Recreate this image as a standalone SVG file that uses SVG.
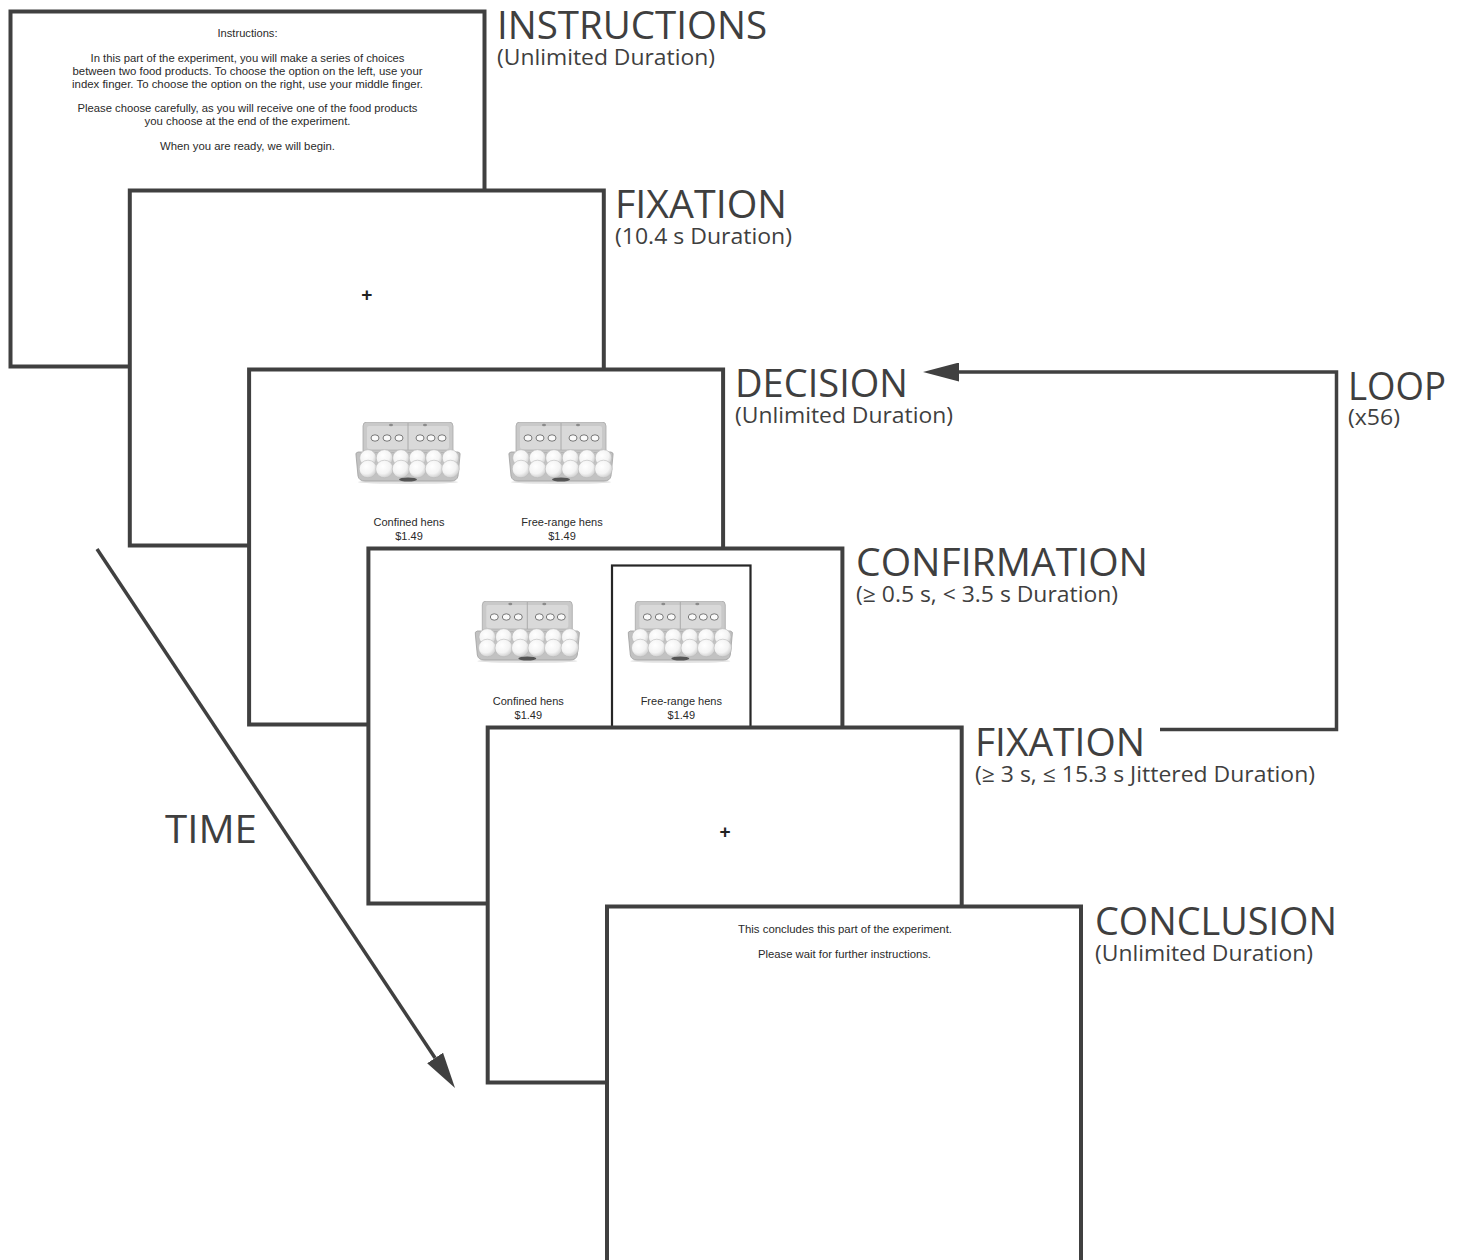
<svg xmlns="http://www.w3.org/2000/svg" width="1466" height="1260" viewBox="0 0 1466 1260">
<defs>
<style>
.screen{fill:#ffffff;stroke:#404040;stroke-width:4}
.head{font-family:"Open Sans","Noto Sans",sans-serif;font-size:37.5px;fill:#3f3f3f}
.sub{font-family:"Open Sans","Noto Sans",sans-serif;font-size:22px;fill:#3f3f3f}
.small{font-family:"Liberation Sans",Arial,sans-serif;font-size:11px;fill:#2a2a2a;text-anchor:middle}
.cross{font-family:"Liberation Sans",Arial,sans-serif;font-size:19px;font-weight:bold;fill:#222222;text-anchor:middle}
.conn{fill:none;stroke:#404040;stroke-width:3.5}
.sel{fill:none;stroke:#262626;stroke-width:2.2}
</style>
<radialGradient id="egg" cx="0.4" cy="0.35" r="0.7">
<stop offset="0" stop-color="#ffffff"/>
<stop offset="0.6" stop-color="#f3f3f3"/>
<stop offset="1" stop-color="#c8c8c8"/>
</radialGradient>
<marker id="arrow" viewBox="0 0 36 19" refX="0" refY="9.5" markerWidth="36" markerHeight="19" markerUnits="userSpaceOnUse" orient="auto">
<path d="M0,0 L36,9.5 L0,19 Z" fill="#404040"/>
</marker>
<symbol id="carton" viewBox="0 0 106 62" width="106" height="62">
<ellipse cx="53" cy="60" rx="50" ry="2" fill="#e2e2e2"/>
<path d="M8,4 Q8,0 12,0 H94 Q98,0 98,4 V29 H8 Z" fill="#c9c9c9" stroke="#a8a8a8" stroke-width="0.8"/>
<rect x="12" y="4" width="82" height="23" rx="2" fill="#d9d9d9"/>
<line x1="53" y1="1" x2="53" y2="28" stroke="#aaaaaa" stroke-width="1"/>
<ellipse cx="36" cy="3" rx="2" ry="1.2" fill="#8a8a8a"/>
<ellipse cx="70" cy="3" rx="2" ry="1.2" fill="#8a8a8a"/>
<g fill="#fafafa" stroke="#6a6a6a" stroke-width="0.9">
<ellipse cx="20" cy="16" rx="4" ry="3.2"/>
<ellipse cx="32" cy="16" rx="4" ry="3.2"/>
<ellipse cx="44" cy="16" rx="4" ry="3.2"/>
<ellipse cx="65" cy="16" rx="4" ry="3.2"/>
<ellipse cx="76" cy="16" rx="4" ry="3.2"/>
<ellipse cx="87" cy="16" rx="4" ry="3.2"/>
</g>
<path d="M1,33 Q0,31 3,30 H103 Q106,31 105,33 L103,54 Q102,59 96,59 H10 Q4,59 3,54 Z" fill="#c2c2c2" stroke="#a0a0a0" stroke-width="0.8"/>
<g fill="url(#egg)" stroke="#b8b8b8" stroke-width="0.6">
<circle cx="13" cy="36" r="8.3"/>
<circle cx="29.5" cy="36" r="8.3"/>
<circle cx="46" cy="36" r="8.3"/>
<circle cx="62.5" cy="36" r="8.3"/>
<circle cx="79" cy="36" r="8.3"/>
<circle cx="95.5" cy="36" r="8.3"/>
<circle cx="13" cy="47" r="8.8"/>
<circle cx="29.5" cy="47" r="8.8"/>
<circle cx="46" cy="47" r="8.8"/>
<circle cx="62.5" cy="47" r="8.8"/>
<circle cx="79" cy="47" r="8.8"/>
<circle cx="95.5" cy="47" r="8.8"/>
</g>
<ellipse cx="53" cy="57.5" rx="9" ry="2" fill="#555555"/>
</symbol>
</defs>
<rect x="0" y="0" width="1466" height="1260" fill="#ffffff"/>

<g id="node-instructions">
<rect class="screen" x="10.5" y="11.5" width="474" height="355"/>
<text class="small" x="247.5" y="37" textLength="60" lengthAdjust="spacingAndGlyphs">Instructions:</text>
<text class="small" x="247.5" y="62" textLength="314" lengthAdjust="spacingAndGlyphs">In this part of the experiment, you will make a series of choices</text>
<text class="small" x="247.5" y="75" textLength="350" lengthAdjust="spacingAndGlyphs">between two food products. To choose the option on the left, use your</text>
<text class="small" x="247.5" y="88" textLength="351" lengthAdjust="spacingAndGlyphs">index finger. To choose the option on the right, use your middle finger.</text>
<text class="small" x="247.5" y="112" textLength="340" lengthAdjust="spacingAndGlyphs">Please choose carefully, as you will receive one of the food products</text>
<text class="small" x="247.5" y="125" textLength="206" lengthAdjust="spacingAndGlyphs">you choose at the end of the experiment.</text>
<text class="small" x="247.5" y="150" textLength="175" lengthAdjust="spacingAndGlyphs">When you are ready, we will begin.</text>
<text class="head" x="497" y="39" textLength="270" lengthAdjust="spacingAndGlyphs">INSTRUCTIONS</text>
<text class="sub" x="497" y="65" textLength="218" lengthAdjust="spacingAndGlyphs">(Unlimited Duration)</text>
</g>

<g id="node-fixation-1">
<rect class="screen" x="129.8" y="190.5" width="474" height="355"/>
<text class="cross" x="366.7" y="301">+</text>
<text class="head" x="615" y="218" textLength="172" lengthAdjust="spacingAndGlyphs">FIXATION</text>
<text class="sub" x="615" y="244" textLength="177" lengthAdjust="spacingAndGlyphs">(10.4 s Duration)</text>
</g>

<g id="node-decision">
<rect class="screen" x="249.1" y="369.5" width="474" height="355"/>
<use href="#carton" x="355" y="422"/>
<use href="#carton" x="508" y="422"/>
<text class="small" x="409" y="526">Confined hens</text>
<text class="small" x="409" y="540">$1.49</text>
<text class="small" x="562" y="526">Free-range hens</text>
<text class="small" x="562" y="540">$1.49</text>
<text class="head" x="735" y="397" textLength="173" lengthAdjust="spacingAndGlyphs">DECISION</text>
<text class="sub" x="735" y="423" textLength="218" lengthAdjust="spacingAndGlyphs">(Unlimited Duration)</text>
</g>

<g id="node-confirmation">
<rect class="screen" x="368.4" y="548.5" width="474" height="355"/>
<use href="#carton" x="474.3" y="601"/>
<use href="#carton" x="627.3" y="601"/>
<text class="small" x="528.3" y="705">Confined hens</text>
<text class="small" x="528.3" y="719">$1.49</text>
<text class="small" x="681.3" y="705">Free-range hens</text>
<text class="small" x="681.3" y="719">$1.49</text>
<rect class="sel" x="612" y="565.5" width="138.5" height="175"/>
<text class="head" x="856" y="576" textLength="292" lengthAdjust="spacingAndGlyphs">CONFIRMATION</text>
<text class="sub" x="856" y="602" textLength="262" lengthAdjust="spacingAndGlyphs">(≥ 0.5 s, &lt; 3.5 s Duration)</text>
</g>

<g id="node-fixation-2">
<rect class="screen" x="487.7" y="727.5" width="474" height="355"/>
<text class="cross" x="725" y="838">+</text>
<text class="head" x="975" y="756" textLength="170" lengthAdjust="spacingAndGlyphs">FIXATION</text>
<text class="sub" x="975" y="782" textLength="340" lengthAdjust="spacingAndGlyphs">(≥ 3 s, ≤ 15.3 s Jittered Duration)</text>
</g>

<g id="node-conclusion">
<rect class="screen" x="607" y="906.5" width="474" height="360"/>
<text class="small" x="845" y="933" textLength="214" lengthAdjust="spacingAndGlyphs">This concludes this part of the experiment.</text>
<text class="small" x="844.5" y="958" textLength="173" lengthAdjust="spacingAndGlyphs">Please wait for further instructions.</text>
<text class="head" x="1095" y="935" textLength="242" lengthAdjust="spacingAndGlyphs">CONCLUSION</text>
<text class="sub" x="1095" y="961" textLength="218" lengthAdjust="spacingAndGlyphs">(Unlimited Duration)</text>
</g>

<g id="connectors">
<path id="loop" class="conn" d="M1160,729.5 H1336.5 V372 H959" marker-end="url(#arrow)"/>
<text class="head" x="1348" y="400" textLength="98" lengthAdjust="spacingAndGlyphs">LOOP</text>
<text class="sub" x="1348" y="425" textLength="52" lengthAdjust="spacingAndGlyphs">(x56)</text>
<path id="time" class="conn" d="M97,549 L435.1,1058" marker-end="url(#arrow)"/>
<text class="head" x="165" y="843" textLength="92" lengthAdjust="spacingAndGlyphs">TIME</text>
</g>
</svg>
